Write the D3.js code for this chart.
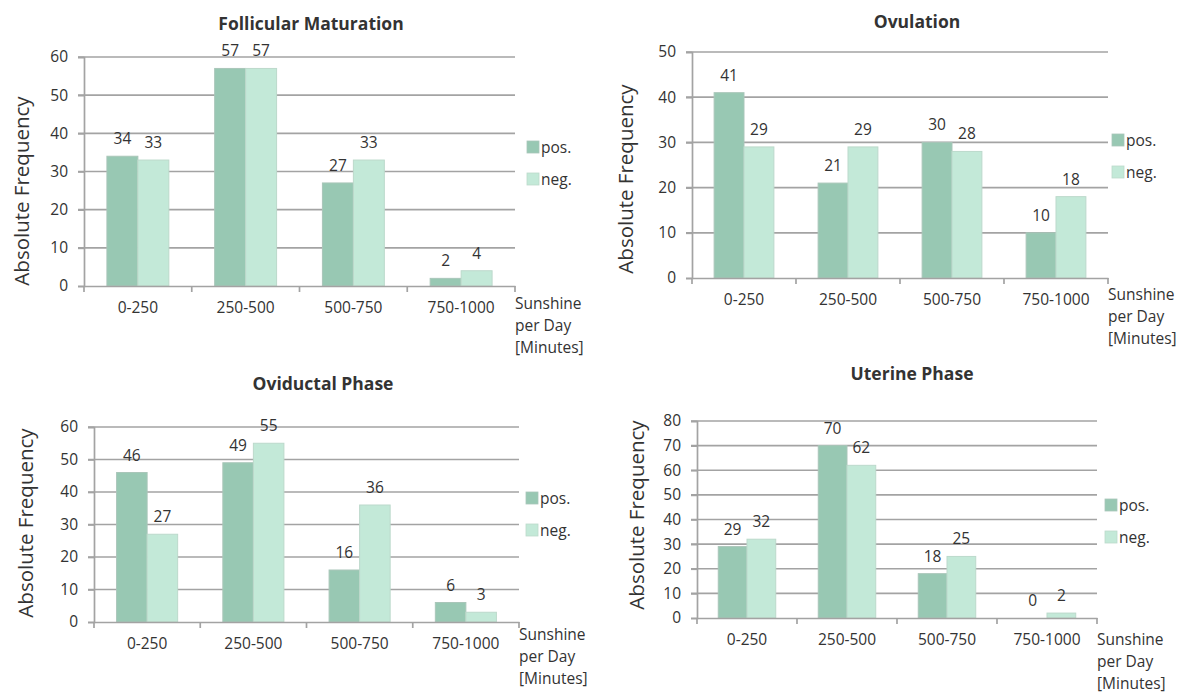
<!DOCTYPE html>
<html>
<head>
<meta charset="utf-8">
<script src="https://cdn.jsdelivr.net/npm/d3@7"></script>
<style>
  html, body { margin: 0; padding: 0; background: #fff; }
  svg { display: block; }
  text { font-family: "Open Sans", Lato, sans-serif; fill: #333; }
</style>
</head>
<body>
<svg id="chart" width="1184" height="693"></svg>
<script>
// Sunshine-per-day classes and group names
const categories = ["0-250", "250-500", "500-750", "750-1000"];
const groups = ["pos.", "neg."];

// Absolute frequencies per phase
const follicularPos = [34, 57, 27, 2];
const follicularNeg = [33, 57, 33, 4];
const ovulationPos = [41, 21, 30, 10];
const ovulationNeg = [29, 29, 28, 18];
const oviductalPos = [46, 49, 16, 6];
const oviductalNeg = [27, 55, 36, 3];
const uterinePos = [29, 70, 18, 0];
const uterineNeg = [32, 62, 25, 2];

// Panel titles and y-axis maxima
const titles = ["Follicular Maturation", "Ovulation", "Oviductal Phase", "Uterine Phase"];
const yMax = [60, 50, 60, 80];
const xTitle = ["Sunshine", "per Day", "[Minutes]"];

const colors = { "pos.": "#98c8b3", "neg.": "#c3e9d8" };
const strokes = { "pos.": "#a9c6b9", "neg.": "#bcd9cb" };

// Placement of each panel's plot area
const layout = [
  { left: 84,  right: 515,  top: 57,  bottom: 286, titleX: 311, titleY: 30,  legX: 527,  legY: 147, yLabX: 21,  yLabY: 191, sunY: 309 },
  { left: 692, right: 1108, top: 52,  bottom: 278, titleX: 917, titleY: 28,  legX: 1112, legY: 140, yLabX: 625, yLabY: 179, sunY: 300 },
  { left: 94,  right: 519,  top: 427, bottom: 622, titleX: 323, titleY: 390, legX: 526,  legY: 498, yLabX: 25,  yLabY: 523, sunY: 640 },
  { left: 697, right: 1097, top: 421, bottom: 618, titleX: 912, titleY: 380, legX: 1105, legY: 505, yLabX: 636, yLabY: 515, sunY: 645 }
];

const panels = [
  [follicularPos, follicularNeg],
  [ovulationPos, ovulationNeg],
  [oviductalPos, oviductalNeg],
  [uterinePos, uterineNeg]
];

const svg = d3.select("#chart");
const gridColor = "#a3a3a3";
const font = "'Open Sans', Lato, sans-serif";

panels.forEach(([pos, neg], i) => {
  const L = layout[i];
  const g = svg.append("g");

  const x = d3.scaleBand().domain(categories).range([L.left, L.right]).padding(0);
  const xs = d3.scaleBand().domain(groups).range([0, x.bandwidth()]).paddingInner(0).paddingOuter(0.74);
  const y = d3.scaleLinear().domain([0, yMax[i]]).range([L.bottom, L.top]);
  const ticks = d3.range(0, yMax[i] + 1, 10);

  // Horizontal gridlines
  g.selectAll("line.grid").data(ticks.filter(t => t > 0)).join("line")
    .attr("x1", L.left - 6).attr("x2", L.right)
    .attr("y1", d => y(d)).attr("y2", d => y(d))
    .attr("stroke", gridColor).attr("stroke-width", 1.7);

  // Y axis with tick labels
  const yAxis = d3.axisLeft(y).tickValues(ticks).tickSize(6).tickPadding(10);
  const ya = g.append("g").attr("transform", `translate(${L.left},0)`).call(yAxis);
  ya.select(".domain").attr("stroke", gridColor).attr("stroke-width", 1.7);
  ya.selectAll(".tick line").attr("stroke", gridColor).attr("stroke-width", 1.7);
  ya.selectAll(".tick text").attr("font-size", 15.5).attr("font-family", font).attr("fill", "#333");

  // Bars
  const rows = categories.map((c, k) => ({ cat: c, vals: [{ grp: "pos.", v: pos[k] }, { grp: "neg.", v: neg[k] }] }));
  const cg = g.selectAll("g.cat").data(rows).join("g")
    .attr("transform", d => `translate(${x(d.cat)},0)`);
  cg.selectAll("rect").data(d => d.vals).join("rect")
    .attr("x", d => xs(d.grp)).attr("width", xs.bandwidth())
    .attr("y", d => y(d.v)).attr("height", d => y(0) - y(d.v))
    .attr("fill", d => colors[d.grp])
    .attr("stroke", d => d.v > 0 ? strokes[d.grp] : "none").attr("stroke-width", 1);
  cg.selectAll("text.val").data(d => d.vals).join("text")
    .attr("class", "val")
    .attr("x", d => xs(d.grp) + xs.bandwidth() / 2)
    .attr("y", d => y(d.v) - 12)
    .attr("text-anchor", "middle").attr("font-size", 15.5)
    .text(d => d.v);

  // X axis baseline with category ticks
  const xa = g.append("g").attr("transform", `translate(0,${L.bottom})`)
    .call(d3.axisBottom(x).tickSize(0).tickPadding(16));
  xa.select(".domain").attr("stroke", gridColor).attr("stroke-width", 1.7);
  xa.selectAll(".tick text").attr("font-size", 15.5).attr("font-family", font).attr("fill", "#333");
  const bounds = categories.map(c => x(c)).concat([L.right]);
  g.selectAll("line.xt").data(bounds).join("line")
    .attr("x1", d => d).attr("x2", d => d)
    .attr("y1", L.bottom).attr("y2", L.bottom + 6)
    .attr("stroke", gridColor).attr("stroke-width", 1.7);

  // Title
  g.append("text").attr("x", L.titleX).attr("y", L.titleY)
    .attr("text-anchor", "middle").attr("font-size", 17.5).attr("font-weight", "bold")
    .attr("fill", "#222")
    .text(titles[i]);

  // Y axis title
  g.append("text")
    .attr("transform", `translate(${L.yLabX},${L.yLabY}) rotate(-90)`)
    .attr("text-anchor", "middle").attr("dominant-baseline", "central")
    .attr("font-size", 20.5)
    .text("Absolute Frequency");

  // X axis title
  const xt = g.append("text").attr("x", L.right).attr("y", L.sunY).attr("font-size", 15.5);
  xTitle.forEach((s, k) =>
    xt.append("tspan").attr("x", L.right).attr("dy", k === 0 ? 0 : 22).text(s));

  // Legend
  groups.forEach((grp, k) => {
    const ly = L.legY + k * 32;
    g.append("rect").attr("x", L.legX).attr("y", ly - 6).attr("width", 12).attr("height", 12)
      .attr("fill", colors[grp]).attr("stroke", strokes[grp]).attr("stroke-width", 0.8);
    g.append("text").attr("x", L.legX + 14).attr("y", ly).attr("dominant-baseline", "central")
      .attr("font-size", 15.5).text(grp);
  });
});
</script>
</body>
</html>
